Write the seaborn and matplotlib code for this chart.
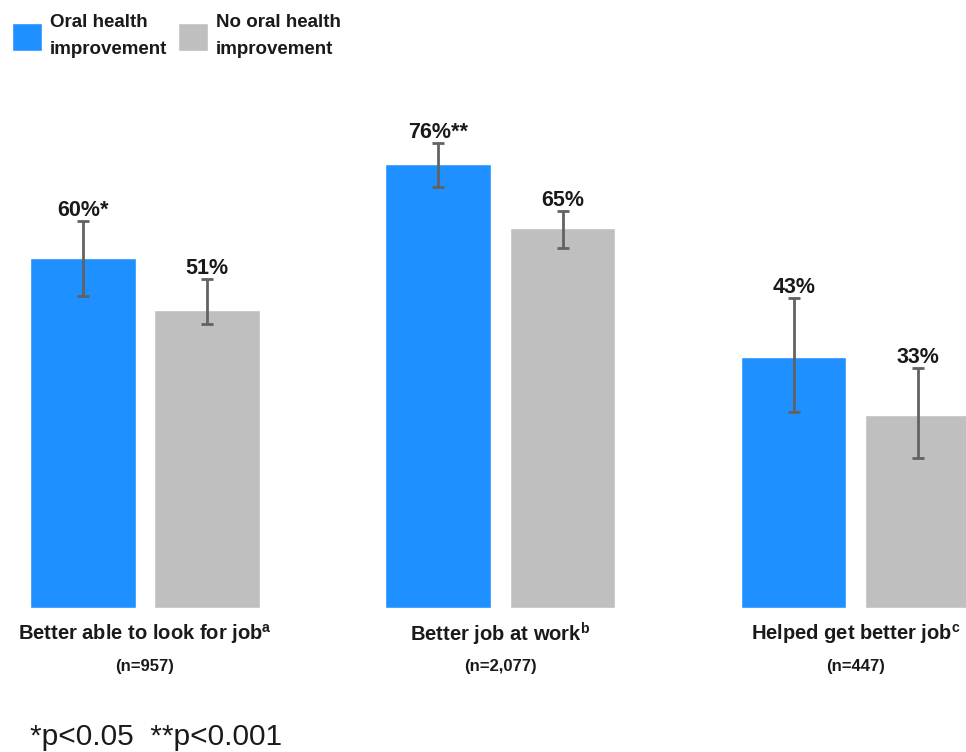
import matplotlib
matplotlib.use("Agg")
import matplotlib.pyplot as plt
import matplotlib.transforms as mtransforms
import seaborn as sns
import pandas as pd
import numpy as np

categories = ["Better able to look for job", "Better job at work", "Helped get better job"]
superscripts = ["a", "b", "c"]
sample_sizes = ["(n=957)", "(n=2,077)", "(n=447)"]
groups = ["Oral health\nimprovement", "No oral health\nimprovement"]
improved = [60, 76, 43]
not_improved = [51, 65, 33]
improved_labels = ["60%*", "76%**", "43%"]
not_improved_labels = ["51%", "65%", "33%"]
improved_low = [53.4, 72.1, 33.5]
improved_high = [66.3, 79.6, 53.1]
not_improved_low = [48.6, 61.6, 25.7]
not_improved_high = [56.3, 68.0, 41.1]
footnote = "*p<0.05  **p<0.001"

colors = ["#1E90FF", "#BFBFBF"]

df = pd.DataFrame({
    "category": categories * 2,
    "group": [groups[0]] * 3 + [groups[1]] * 3,
    "value": improved + not_improved,
})

sns.set_style("white")
FONT = ["Liberation Sans", "DejaVu Sans"]
plt.rcParams["font.family"] = FONT

fig = plt.figure(figsize=(9.66, 7.52), dpi=100)
ax = fig.add_axes([0, (752 - 608) / 752, 1, 518 / 752])

sns.barplot(data=df, x="category", y="value", hue="group", palette=colors,
            width=0.7, gap=0.15, errorbar=None, ax=ax, legend=True, saturation=1)

lows = [improved_low, not_improved_low]
highs = [improved_high, not_improved_high]
vals = [improved, not_improved]
labs = [improved_labels, not_improved_labels]
bar_containers = list(ax.containers)
for ci, cont in enumerate(bar_containers):
    xs = [p.get_x() + p.get_width() / 2 for p in cont.patches]
    v = np.array(vals[ci], dtype=float)
    lo = v - np.array(lows[ci])
    hi = np.array(highs[ci]) - v
    ax.errorbar(xs, v, yerr=[lo, hi], fmt="none", ecolor="#626262",
                elinewidth=2, capsize=4, capthick=2, zorder=3)
    for x, h, t in zip(xs, highs[ci], labs[ci]):
        ax.text(x, h + 0.9, t, ha="center", va="baseline", fontsize=15.5,
                fontweight="bold", color="#1a1a1a")

ax.set_xlim(-0.408, 2.31)
ax.set_ylim(0, 88.7)
ax.set_xticks([])
ax.set_yticks([])
ax.set_xlabel("")
ax.set_ylabel("")
for s in ax.spines.values():
    s.set_visible(False)

trans = mtransforms.blended_transform_factory(ax.transData, fig.transFigure)
for i, (c, sup, n) in enumerate(zip(categories, superscripts, sample_sizes)):
    ax.text(i, 1 - 634 / 752, c + r"$^{\mathregular{" + sup + "}}$", transform=trans,
            ha="center", va="center", fontsize=14.5, fontweight="bold", color="#1a1a1a")
    ax.text(i, 1 - 667 / 752, n, transform=trans, ha="center", va="center",
            fontsize=12, fontweight="bold", color="#1a1a1a")

fig.text(30 / 966, 1 - 737 / 752, footnote, ha="left", va="center", fontsize=21.5,
         color="#1a1a1a", family=FONT)

handles, labels = ax.get_legend_handles_labels()
ax.legend(handles, labels, loc="upper left", bbox_to_anchor=(12 / 966, 1 - 14 / 752),
          bbox_transform=fig.transFigure, ncol=2, frameon=False, borderpad=0,
          prop={"family": FONT, "weight": "bold", "size": 13.5},
          handlelength=1.6, handleheight=1.9, handletextpad=0.4, columnspacing=0.6,
          borderaxespad=0)
for t in ax.get_legend().get_texts():
    t.set_color("#1a1a1a")
    t.set_linespacing(1.8)

fig.savefig("out.png", dpi=100)
